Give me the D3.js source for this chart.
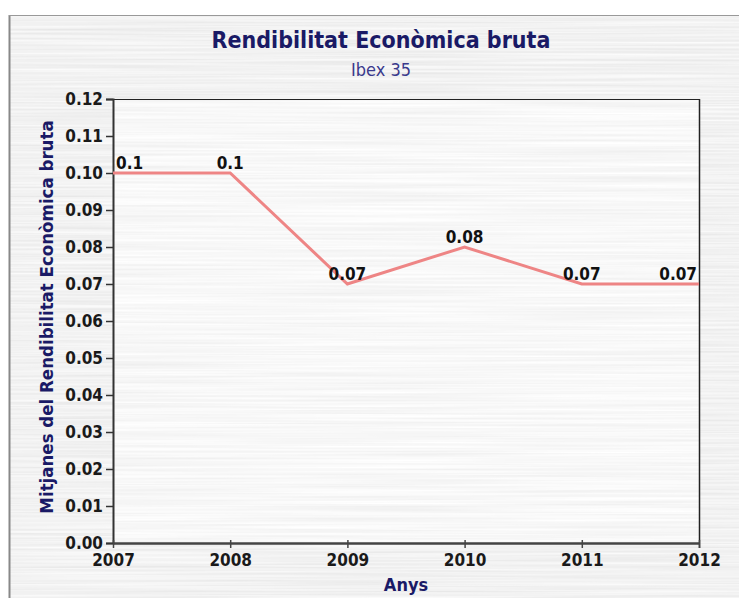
<!DOCTYPE html>
<html>
<head>
<meta charset="utf-8">
<script src="https://cdn.jsdelivr.net/npm/d3@7"></script>
<style>
  html, body { margin: 0; padding: 0; background: #ffffff; }
  svg { display: block; }
</style>
</head>
<body>
<script>
// Average gross economic return of Ibex 35 companies, per year
const years = [2007, 2008, 2009, 2010, 2011, 2012];
const values = [0.10, 0.10, 0.07, 0.08, 0.07, 0.07];
const valueLabels = ["0.1", "0.1", "0.07", "0.08", "0.07", "0.07"];
const yTicks = [0, 0.01, 0.02, 0.03, 0.04, 0.05, 0.06, 0.07, 0.08, 0.09, 0.10, 0.11, 0.12];

const titleText = "Rendibilitat Econòmica bruta";
const subtitleText = "Ibex 35";
const xTitle = "Anys";
const yTitle = "Mitjanes del Rendibilitat Econòmica bruta";

const W = 739, H = 598;
const margin = { left: 113, right: 40, top: 99, bottom: 55 };
const font = "'DejaVu Sans Condensed', 'DejaVu Sans', sans-serif";
const navy = "#1a1a66";

const svg = d3.select("body").append("svg")
  .attr("width", W).attr("height", H);

const defs = svg.append("defs");

// Brushed-metal texture: stretched noise gives horizontal streaks
function brushed(id, seed, lo, hi) {
  const f = defs.append("filter").attr("id", id)
    .attr("x", 0).attr("y", 0).attr("width", 1).attr("height", 1)
    .attr("filterUnits", "objectBoundingBox");
  f.append("feTurbulence")
    .attr("type", "fractalNoise")
    .attr("baseFrequency", "0.004 0.45")
    .attr("numOctaves", 2)
    .attr("seed", seed)
    .attr("result", "n");
  f.append("feColorMatrix").attr("in", "n").attr("type", "matrix")
    .attr("values", "1 0 0 0 0  1 0 0 0 0  1 0 0 0 0  0 0 0 0 1")
    .attr("result", "g");
  const ct = f.append("feComponentTransfer").attr("in", "g");
  ["R", "G", "B"].forEach(c => ct.append("feFunc" + c)
    .attr("type", "linear").attr("slope", (hi - lo) * 2).attr("intercept", lo - (hi - lo) * 0.5));
}
brushed("metal", 7, 0.83, 0.95);
brushed("metalLight", 3, 0.89, 0.99);

// outer panel
svg.append("rect")
  .attr("x", 9).attr("y", 15).attr("width", W - 9).attr("height", H - 15)
  .attr("fill", "#e2e2e2").attr("filter", "url(#metal)");
svg.append("line").attr("x1", 9.5).attr("x2", 9.5).attr("y1", 15).attr("y2", H)
  .attr("stroke", "#888").attr("stroke-width", 2);
svg.append("line").attr("x1", 9).attr("x2", W).attr("y1", 15.5).attr("y2", 15.5)
  .attr("stroke", "#999").attr("stroke-width", 1);

const innerW = W - margin.left - margin.right;
const innerH = H - margin.top - margin.bottom;

const x = d3.scalePoint().domain(years).range([margin.left, margin.left + innerW]);
const y = d3.scaleLinear().domain([0, 0.12]).range([margin.top + innerH, margin.top]);

// plot area
svg.append("rect")
  .attr("x", margin.left).attr("y", margin.top)
  .attr("width", innerW).attr("height", innerH)
  .attr("fill", "#f0f0f0").attr("filter", "url(#metalLight)");

// frame: top and right
svg.append("line")
  .attr("x1", margin.left).attr("x2", margin.left + innerW)
  .attr("y1", margin.top + 0.5).attr("y2", margin.top + 0.5)
  .attr("stroke", "#222").attr("stroke-width", 1);
svg.append("line")
  .attr("x1", margin.left + innerW + 0.5).attr("x2", margin.left + innerW + 0.5)
  .attr("y1", margin.top).attr("y2", margin.top + innerH + 5)
  .attr("stroke", "#222").attr("stroke-width", 1.5);

// y axis
const yAxis = svg.append("g")
  .attr("transform", `translate(${margin.left},0)`)
  .call(d3.axisLeft(y).tickValues(yTicks).tickFormat(d3.format(".2f")).tickSize(7).tickPadding(3));
yAxis.select(".domain").attr("stroke", "#333").attr("stroke-width", 2);
yAxis.selectAll(".tick line").attr("stroke", "#333").attr("stroke-width", 1.5);
yAxis.selectAll(".tick text")
  .attr("font-family", font).attr("font-weight", "bold").attr("font-size", 17)
  .attr("fill", "#1a1a1a");

// x axis
const xAxis = svg.append("g")
  .attr("transform", `translate(0,${margin.top + innerH})`)
  .call(d3.axisBottom(x).tickSize(5).tickPadding(6).tickSizeOuter(0));
xAxis.select(".domain").attr("stroke", "#444").attr("stroke-width", 2.5);
xAxis.selectAll(".tick line").attr("stroke", "#444").attr("stroke-width", 1.5).attr("y1", -3);
xAxis.selectAll(".tick text")
  .attr("font-family", font).attr("font-weight", "bold").attr("font-size", 17)
  .attr("fill", "#1a1a1a");

// series line
const line = d3.line().x((d, i) => x(years[i])).y(d => y(d));
svg.append("path")
  .datum(values)
  .attr("d", line)
  .attr("fill", "none")
  .attr("stroke", "#ee8585")
  .attr("stroke-width", 3)
  .attr("stroke-linejoin", "miter");

// value labels
svg.append("g").selectAll("text")
  .data(values)
  .join("text")
  .attr("x", (d, i) => i === 0 ? x(years[i]) + 3 : i === years.length - 1 ? x(years[i]) - 2 : x(years[i]))
  .attr("y", d => y(d) - 4)
  .attr("text-anchor", (d, i) => i === 0 ? "start" : i === years.length - 1 ? "end" : "middle")
  .attr("font-family", font).attr("font-weight", "bold").attr("font-size", 17)
  .attr("fill", "#111")
  .text((d, i) => valueLabels[i]);

// titles
svg.append("text")
  .attr("x", 381).attr("y", 48)
  .attr("text-anchor", "middle")
  .attr("font-family", font).attr("font-weight", "bold").attr("font-size", 23)
  .attr("fill", navy).text(titleText);
svg.append("text")
  .attr("x", 381).attr("y", 76)
  .attr("text-anchor", "middle")
  .attr("font-family", font).attr("font-size", 18)
  .attr("fill", "#3a3a8c").text(subtitleText);

svg.append("text")
  .attr("x", margin.left + innerW / 2).attr("y", 591)
  .attr("text-anchor", "middle")
  .attr("font-family", font).attr("font-weight", "bold").attr("font-size", 18)
  .attr("fill", navy).text(xTitle);

svg.append("text")
  .attr("transform", `translate(53,${margin.top + innerH / 2 - 4}) rotate(-90)`)
  .attr("text-anchor", "middle")
  .attr("font-family", font).attr("font-weight", "bold").attr("font-size", 18.5)
  .attr("fill", navy).text(yTitle);
</script>
</body>
</html>
